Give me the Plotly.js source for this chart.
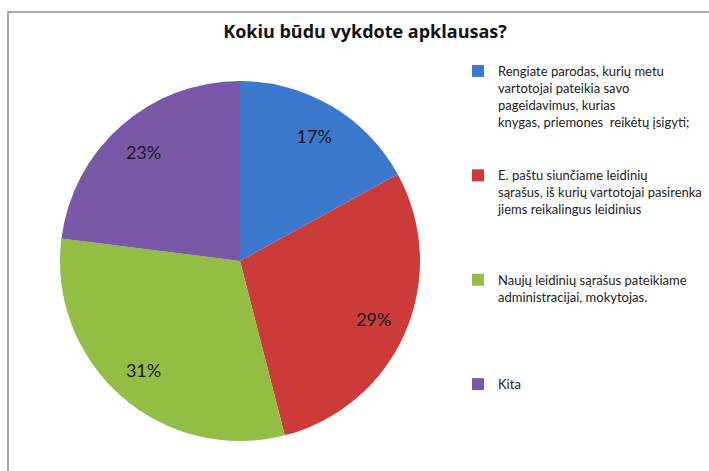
<!DOCTYPE html>
<html>
<head>
<meta charset="utf-8">
<script src="https://cdn.plot.ly/plotly-3.0.1.min.js"></script>
<style>html,body{margin:0;padding:0;background:#fff;}#chart{width:709px;height:471px;}</style>
</head>
<body>
<div id="chart"></div>
<script>
const titleText = "Kokiu būdu vykdote apklausas?";
const categories = [
  "Rengiate parodas, kurių metu<br>vartotojai pateikia savo<br>pageidavimus, kurias<br>knygas, priemones  reikėtų įsigyti;",
  "E. paštu siunčiame leidinių<br>sąrašus, iš kurių vartotojai pasirenka<br>jiems reikalingus leidinius",
  "Naujų leidinių sąrašus pateikiame<br>administracijai, mokytojas.",
  "Kita"
];
const values = [17, 29, 31, 23];
const colors = ["#3c78cc", "#cc3a3a", "#93bd45", "#7a58a8"];

// pad legend entries so they are evenly spaced
const maxLines = 6;
const legendLabels = categories.map(c => {
  const n = c.split("<br>").length;
  return c + "<br> ".repeat(maxLines - n);
});

const W = 709, H = 471;
const cx = 240, cy = 261, r = 180;
const dom = {x: [(cx - r) / W, (cx + r) / W], y: [1 - (cy + r) / H, 1 - (cy - r) / H]};

const data = [{
  type: "pie",
  labels: legendLabels,
  values: values,
  sort: false,
  direction: "clockwise",
  rotation: 0,
  marker: {colors: colors, line: {width: 0}},
  textinfo: "none",
  hoverinfo: "label+percent",
  domain: dom
}, {
  type: "pie",
  labels: legendLabels,
  values: values,
  sort: false,
  direction: "clockwise",
  rotation: 0,
  hole: 0.62,
  showlegend: false,
  marker: {colors: colors.map(() => "rgba(0,0,0,0)"), line: {width: 0}},
  texttemplate: "%{value}%",
  textposition: "inside",
  insidetextorientation: "horizontal",
  textfont: {family: "Lato, 'Open Sans', sans-serif", size: 18, color: "#1a1a1a"},
  hoverinfo: "skip",
  domain: dom
}];

const layout = {
  width: W, height: H,
  margin: {l: 0, r: 0, t: 0, b: 0, autoexpand: false},
  paper_bgcolor: "#ffffff",
  title: {
    text: "<b>" + titleText + "</b>",
    font: {family: "'Open Sans', sans-serif", size: 18, color: "#111"},
    x: 365 / W, xanchor: "center",
    y: 1 - 32 / H, yanchor: "middle"
  },
  showlegend: true,
  legend: {
    x: 458 / W, xanchor: "left",
    y: 1 - 56 / H, yanchor: "top",
    font: {family: "Lato, 'Open Sans', sans-serif", size: 13, color: "#222"},
    itemwidth: 30,
    valign: "top",
    bgcolor: "rgba(0,0,0,0)",
    traceorder: "normal"
  },
  shapes: [{
    type: "rect", xref: "paper", yref: "paper",
    x0: 8 / W, x1: 1.2, y0: -0.2, y1: 1 - 12 / H,
    line: {color: "#8c8c8c", width: 1.5},
    fillcolor: "rgba(0,0,0,0)", layer: "below"
  }]
};

Plotly.newPlot("chart", data, layout, {displayModeBar: false, staticPlot: true});
</script>
</body>
</html>
